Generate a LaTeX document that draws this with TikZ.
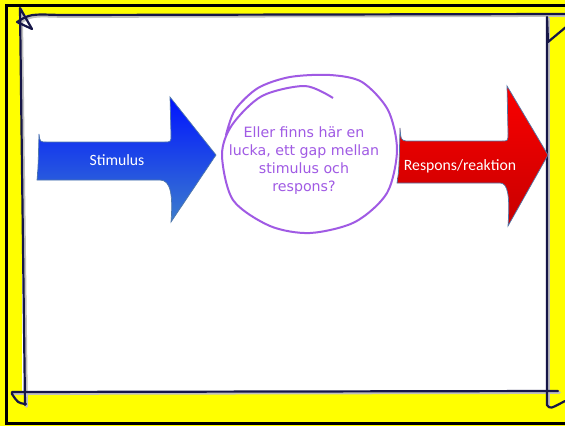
\documentclass[tikz,border=0pt]{standalone}
\usepackage{fontspec}
\setmainfont{Carlito}
\newfontfamily\handfont{DejaVu Sans}

\definecolor{frameyellow}{RGB}{255,255,0}
\definecolor{framenavy}{RGB}{22,22,72}
\definecolor{talkpurple}{RGB}{160,90,228}
\definecolor{stimblue}{RGB}{0,20,255}
\definecolor{stimbluelow}{RGB}{60,125,205}
\definecolor{respred}{RGB}{250,0,0}
\definecolor{respredlow}{RGB}{200,0,0}
\definecolor{arrowedge}{RGB}{80,120,170}

\begin{document}
\begin{tikzpicture}[x=1pt, y=-1pt,
  frameline/.style={draw=framenavy, line width=2.2pt, line cap=round, line join=round},
  frameshadow/.style={draw=black!25, line width=2.8pt, line cap=round, line join=round},
  stimarrow/.style={top color=stimblue, bottom color=stimbluelow, draw=arrowedge, line width=0.7pt},
  resparrow/.style={top color=respred, bottom color=respredlow, draw=arrowedge, line width=0.7pt},
  arrowtext/.style={text=white, font=\fontsize{15.7}{18}\selectfont, inner sep=0pt},
  talktext/.style={text=talkpurple, align=center, font=\handfont\fontsize{14.2}{18}\selectfont, inner sep=0pt}]
  \useasboundingbox (0,0) rectangle (565,426);
  \fill[frameyellow] (0,0) rectangle (565,426);
  \draw[black, line width=3pt, fill=frameyellow] (6,5) rectangle (572,423);
  \fill[white] (22,15) rectangle (547,391);

  \draw[frameshadow, xshift=1.5pt, yshift=-1.5pt] (20,8) -- (25,405);
  \draw[frameshadow, xshift=1.5pt, yshift=-1.5pt] (17,22) .. controls (30,14) .. (60,15) -- (566,14);
  \draw[frameshadow, xshift=1.5pt, yshift=-1.5pt] (547,17) -- (547,405);
  \draw[frameshadow, xshift=1.5pt, yshift=-1.5pt] (12,392) -- (558,391);

  \draw[frameline] (32,29) -- (20,8) -- (25,405);
  \draw[frameline] (32,29) -- (17,22) .. controls (30,14) .. (60,15) -- (566,14);
  \draw[frameline] (566,27) -- (548,42) -- (547,17) -- (547,405)
    .. controls (550,409) .. (565,401);
  \draw[frameline] (26,404) .. controls (18,403) .. (12,394) -- (12,392) -- (558,391);

  \path[stimarrow] (39,134) .. controls (40,142) .. (47,142) -- (164,142)
    .. controls (171,142) .. (171,135) -- (170,97) -- (216,155) -- (171,222)
    .. controls (173,196) and (171,180) .. (160,180) -- (37,180)
    .. controls (38,170) .. (39,134) -- cycle;
  \node[arrowtext] (stimulus) at (117,160) {Stimulus};

  \path[resparrow] (400,128) .. controls (401,140) .. (406,141) -- (502,141)
    .. controls (508,141) .. (508,133) -- (507,86) -- (548,155) -- (508,226)
    .. controls (510,196) and (508,183) .. (500,183) -- (397,183)
    .. controls (399,170) .. (400,128) -- cycle;
  \node[arrowtext] (respons) at (460,166) {Respons/reaktion};

  \draw[talkpurple, line width=2pt] plot[smooth] coordinates {(333,98) (305,86)
    (262,96) (232,125) (222,155) (233,200) (270,226) (310,233) (355,222) (387,193)
    (397,150) (388,110) (362,82) (330,75) (290,77) (258,88) (235,110) (226,135)};
  \node[talktext] (gap) at (304,161) {Eller finns här en\\lucka, ett gap mellan\\stimulus och\\respons?};
\end{tikzpicture}
\end{document}
